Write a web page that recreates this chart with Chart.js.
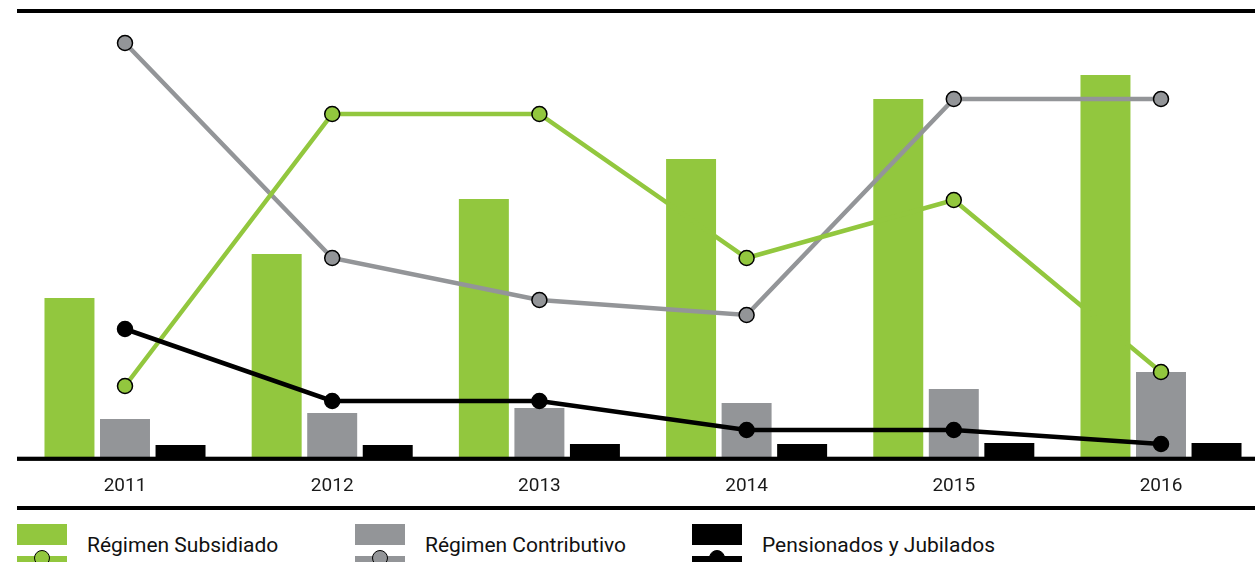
<!DOCTYPE html>
<html>
<head>
<meta charset="utf-8">
<script src="https://cdn.jsdelivr.net/npm/chart.js@4.4.1/dist/chart.umd.min.js"></script>
<style>
  html, body { margin: 0; padding: 0; overflow: hidden; background: #fff; }
  #page { position: relative; width: 1255px; height: 562px; overflow: hidden; }
  #wrap { position: absolute; left: 0; top: 0; width: 1265px; height: 500px; }
  .rule { position: absolute; left: 17px; width: 1238px; background: #000; }
  .item { position: absolute; top: 524px; height: 40px; }
  .item .box { position: absolute; left: 0; top: 0; width: 50px; height: 21px; }
  .item .ln { position: absolute; left: 0; width: 50px; height: 6px; }
  .item .dot { position: absolute; width: 14px; height: 14px; border-radius: 50%; border: 1.5px solid #000; }
  .item span { position: absolute; top: 9px; font-family: Roboto, sans-serif; font-size: 21px; color: #111; white-space: nowrap; }
</style>
</head>
<body>
<div id="page">
  <div class="rule" style="top:9px;height:3.5px"></div>
  <div id="wrap"><canvas id="chart" width="1265" height="500"></canvas></div>
  <div class="rule" style="top:506px;height:3.5px"></div>
  <div id="legend"></div>
</div>

<script>
// ==========================
// DATA
// ==========================

const years = ['2011', '2012', '2013', '2014', '2015', '2016'];

// bars
const subsidiado = [159, 203, 258, 298, 358, 382];
const contributivo = [38, 44, 49, 54, 68, 85];
const pensionados = [12, 12, 13, 13, 14, 14];

// lines
const subsidiadoLinea = [71, 343, 343, 199, 257, 85];
const contributivoLinea = [414, 199, 157, 142, 358, 358];
const pensionadosLinea = [128, 56, 56, 27, 27, 13];

const names = ['Régimen Subsidiado', 'Régimen Contributivo', 'Pensionados y Jubilados'];
const colors = ['#92c73e', '#939598', '#000000'];

// ==========================
// CHART
// ==========================

function lineSet(label, data, color, order) {
    return {
        type: 'line',
        label: label,
        data: data,
        yAxisID: 'y1',
        borderColor: color,
        borderWidth: 4.5,
        pointRadius: 7.5,
        pointBackgroundColor: color,
        pointBorderColor: '#000',
        pointBorderWidth: 1.5,
        tension: 0,
        clip: false,
        order: order
    };
}

function barSet(label, data, color) {
    return {
        type: 'bar',
        label: label,
        data: data,
        yAxisID: 'y',
        backgroundColor: color,
        barPercentage: 0.9,
        categoryPercentage: 0.804,
        clip: false,
        order: 10
    };
}

// the last group runs past the right edge of the picture (page clips at 1255),
// so stretch the category axis a little beyond the canvas width
const plotLeft = 21.4;
const plotRight = 1264.6;

const stretchX = {
    id: 'stretchX',
    afterLayout(chart) {
        const x = chart.scales.x;
        x.left = plotLeft;
        x.right = plotRight;
        x.width = plotRight - plotLeft;
        x.configure();
        chart.chartArea.left = plotLeft;
        chart.chartArea.right = plotRight;
        chart.chartArea.width = plotRight - plotLeft;
    }
};

const axisLine = {
    id: 'axisLine',
    afterDatasetsDraw(chart) {
        const ctx = chart.ctx;
        const y = chart.chartArea.bottom;
        ctx.save();
        ctx.fillStyle = '#000';
        ctx.fillRect(17, y - 0.3, chart.width, 4.2);
        ctx.restore();
    }
};

const ctx = document.getElementById('chart').getContext('2d');

new Chart(ctx, {
    data: {
        labels: years,
        datasets: [
            lineSet(names[1], contributivoLinea, colors[1], 2),
            lineSet(names[0], subsidiadoLinea, colors[0], 1),
            lineSet(names[2], pensionadosLinea, colors[2], 0),
            barSet(names[0], subsidiado, colors[0]),
            barSet(names[1], contributivo, colors[1]),
            barSet(names[2], pensionados, colors[2])
        ]
    },
    options: {
        responsive: false,
        animation: false,
        layout: { padding: { left: plotLeft, right: 0, top: 11, bottom: 0 } },
        plugins: {
            legend: { display: false },
            tooltip: { enabled: false }
        },
        scales: {
            x: {
                grid: { display: false, drawTicks: false },
                border: { display: false },
                ticks: {
                    padding: 18,
                    color: '#1a1a1a',
                    font: { family: 'Roboto', size: 19 }
                },
                afterFit(scale) { scale.height = 43; }
            },
            y: { display: false, min: 0, max: 446 },
            y1: { display: false, min: 0, max: 446 }
        }
    },
    plugins: [stretchX, axisLine]
});

// ==========================
// LEGEND
// ==========================

const legendX = [17, 355, 692];
const legend = document.getElementById('legend');

names.forEach((name, i) => {
    const item = document.createElement('div');
    item.className = 'item';
    item.style.left = legendX[i] + 'px';
    item.innerHTML =
        '<div class="box" style="background:' + colors[i] + '"></div>' +
        '<div class="ln" style="top:32px;background:' + colors[i] + '"></div>' +
        '<div class="dot" style="left:17px;top:26px;background:' + colors[i] + '"></div>' +
        '<span style="left:70px">' + name + '</span>';
    legend.appendChild(item);
});
</script>
</body>
</html>
